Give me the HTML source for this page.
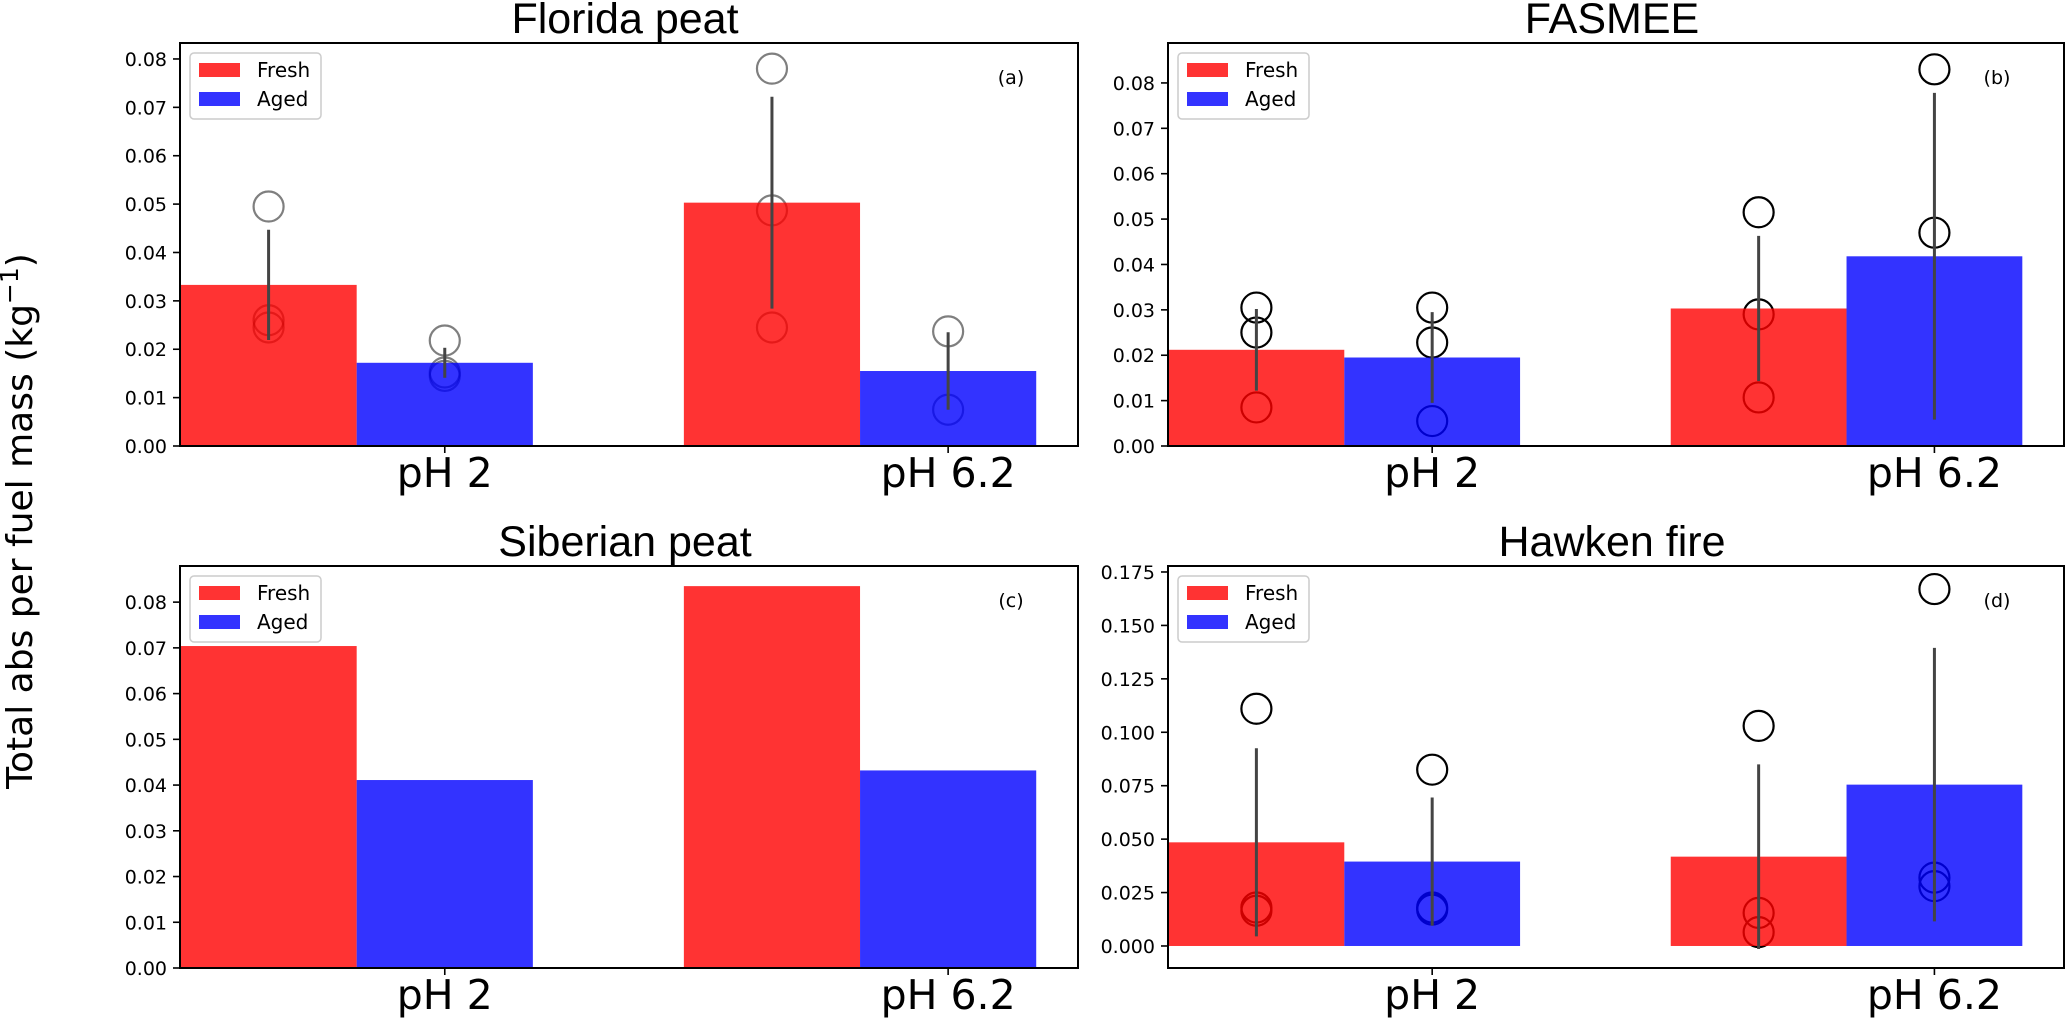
<!DOCTYPE html>
<html><head><meta charset="utf-8"><style>
html,body{margin:0;padding:0;background:#fff;}
svg{display:block;}
</style></head><body>
<svg id="fig" width="2067" height="1024" xmlns="http://www.w3.org/2000/svg">
<text x="32" y="521" transform="rotate(-90 32 521)" text-anchor="middle" font-family="DejaVu Sans, sans-serif" font-size="36" fill="#000">Total abs per fuel mass (kg<tspan font-size="25" dy="-14">−1</tspan><tspan dy="14">)</tspan></text>
</svg>
<script>
const groups = ["pH 2", "pH 6.2"];
const titles = ["Florida peat", "FASMEE", "Siberian peat", "Hawken fire"];
const panelLabels = ["(a)", "(b)", "(c)", "(d)"];
const freshA = [0.0333, 0.0503];
const agedA = [0.0172, 0.0155];
const freshErrA = [0.0114, 0.0219];
const agedErrA = [0.0031, 0.0080];
const freshPtsA = [[0.0495, 0.026, 0.0245], [0.078, 0.0487, 0.0245]];
const agedPtsA = [[0.0218, 0.0152, 0.0145], [0.0237, 0.0075]];
const freshB = [0.0212, 0.0303];
const agedB = [0.0195, 0.0418];
const freshErrB = [0.0090, 0.0160];
const agedErrB = [0.0100, 0.0360];
const freshPtsB = [[0.0305, 0.025, 0.0085], [0.0515, 0.029, 0.0107]];
const agedPtsB = [[0.0305, 0.0228, 0.0055], [0.083, 0.047]];
const freshC = [0.0704, 0.0835];
const agedC = [0.0411, 0.0432];
const freshD = [0.0485, 0.0418];
const agedD = [0.0395, 0.0755];
const freshErrD = [0.0440, 0.0432];
const agedErrD = [0.0300, 0.0640];
const freshPtsD = [[0.111, 0.018, 0.0165], [0.103, 0.0155, 0.0065]];
const agedPtsD = [[0.0825, 0.018, 0.017], [0.167, 0.032, 0.028]];
const ticksAB = ["0.00","0.01","0.02","0.03","0.04","0.05","0.06","0.07","0.08"];
const ticksD = ["0.000","0.025","0.050","0.075","0.100","0.125","0.150","0.175"];

const NS = "http://www.w3.org/2000/svg";
const svg = document.getElementById("fig");
function mk(tag, attrs, parent, text){
  const e = document.createElementNS(NS, tag);
  for (const k in attrs) e.setAttribute(k, attrs[k]);
  if (text !== undefined) e.textContent = text;
  (parent || svg).appendChild(e);
  return e;
}
const panels = [
  {L:180,R:1078,T:43,B:446,ymin:0,ymax:0.0833,fresh:freshA,aged:agedA,fe:freshErrA,ae:agedErrA,fp:freshPtsA,ap:agedPtsA,ticks:ticksAB,ptOp:0.5},
  {L:1168,R:2064,T:43,B:446,ymin:0,ymax:0.0888,fresh:freshB,aged:agedB,fe:freshErrB,ae:agedErrB,fp:freshPtsB,ap:agedPtsB,ticks:ticksAB,ptOp:1},
  {L:180,R:1078,T:566,B:968,ymin:0,ymax:0.0879,fresh:freshC,aged:agedC,fe:null,ae:null,fp:null,ap:null,ticks:ticksAB,ptOp:1},
  {L:1168,R:2064,T:566,B:968,ymin:-0.0103,ymax:0.1778,fresh:freshD,aged:agedD,fe:freshErrD,ae:agedErrD,fp:freshPtsD,ap:agedPtsD,ticks:ticksD,ptOp:1}
];
const xmin = -0.526, xmax = 1.258, bw = 0.35;

panels.forEach((p, pi) => {
  const g = mk("g", {});
  
  
  const X = v => p.L + (v - xmin) / (xmax - xmin) * (p.R - p.L);
  const Y = v => p.B - (v - p.ymin) / (p.ymax - p.ymin) * (p.B - p.T);
  const t = mk("text", {x:(p.L+p.R)/2 - 4, y:p.T-10, "text-anchor":"middle", "font-family":"Liberation Sans, sans-serif", "font-size":"43", fill:"#000"}, g, titles[pi]);
  
  
  const drawPts = (pts, xc) => {
    if (!pts) return;
    pts.forEach((arr, i) => arr.forEach(v => {
      const c = mk("ellipse", {cx:X(i + xc), cy:Y(v), rx:15, ry:15, fill:"none", stroke:"#000", "stroke-width":"2.2", "stroke-opacity":p.ptOp}, g);
      
      
    }));
  };
  drawPts(p.fp, -bw);
  drawPts(p.ap, 0);
  const drawBars = (vals, xc, col, nm) => vals.forEach((v, i) => {
    const y0 = Y(0), y1 = Y(v);
    const r = mk("rect", {x:X(i + xc - bw/2), y:Math.min(y0,y1), width:X(bw)-X(0), height:Math.abs(y0-y1), fill:col, "fill-opacity":"0.8"}, g);
    
    
  });
  drawBars(p.fresh, -bw, "#ff0000", "fresh");
  drawBars(p.aged, 0, "#0000ff", "aged");
  const drawErr = (vals, errs, xc) => {
    if (!errs) return;
    vals.forEach((v, i) => {
      const l = mk("line", {x1:X(i+xc), x2:X(i+xc), y1:Y(v-errs[i]), y2:Y(v+errs[i]), stroke:"#444", "stroke-width":"3"}, g);
      
      
    });
  };
  drawErr(p.fresh, p.fe, -bw);
  drawErr(p.aged, p.ae, 0);
  const f = mk("rect", {x:p.L, y:p.T, width:p.R-p.L, height:p.B-p.T, fill:"none", stroke:"#000", "stroke-width":"2"}, g);
  
  
  p.ticks.forEach(s => {
    const v = parseFloat(s), y = Y(v);
    mk("line", {x1:p.L-7, x2:p.L, y1:y, y2:y, stroke:"#000", "stroke-width":"1.6"}, g);
    const tl = mk("text", {x:p.L-13, y:y+7, "text-anchor":"end", "font-family":"DejaVu Sans, sans-serif", "font-size":"19", fill:"#000"}, g, s);
    
    
  });
  groups.forEach((s, i) => {
    const x = X(i);
    mk("line", {x1:x, x2:x, y1:p.B, y2:p.B+7, stroke:"#000", "stroke-width":"1.6"}, g);
    const tl = mk("text", {x:x, y:p.B+41, "text-anchor":"middle", "font-family":"DejaVu Sans, sans-serif", "font-size":"41", fill:"#000"}, g, s);
    
    
  });
  const pl = mk("text", {x:p.R-67, y:p.T+41, "text-anchor":"middle", "font-family":"DejaVu Sans, sans-serif", "font-size":"19", fill:"#000"}, g, panelLabels[pi]);
  
  
  const lg = mk("g", {}, g);
  
  
  mk("rect", {x:p.L+10, y:p.T+10, width:131, height:66, rx:4, fill:"#fff", stroke:"#ccc", "stroke-width":"1.5"}, lg);
  mk("rect", {x:p.L+19, y:p.T+20, width:41, height:14, fill:"#ff0000", "fill-opacity":"0.8"}, lg);
  mk("rect", {x:p.L+19, y:p.T+49, width:41, height:14, fill:"#0000ff", "fill-opacity":"0.8"}, lg);
  const l1 = mk("text", {x:p.L+77, y:p.T+34, "font-family":"DejaVu Sans, sans-serif", "font-size":"20", fill:"#000"}, lg, "Fresh");
  
  
  const l2 = mk("text", {x:p.L+77, y:p.T+63, "font-family":"DejaVu Sans, sans-serif", "font-size":"20", fill:"#000"}, lg, "Aged");
  
  
});
</script>
</body></html>
